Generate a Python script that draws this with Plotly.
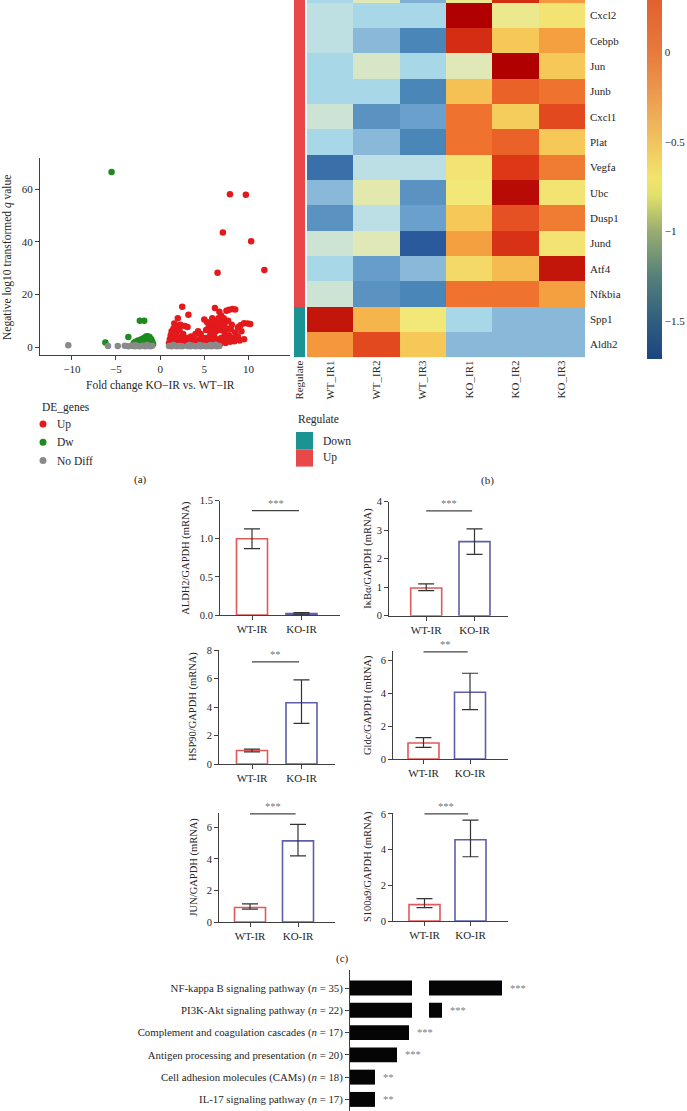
import plotly.graph_objects as go

W, H = 687, 1111
def X(p): return p / W
def Y(p): return 1 - p / H

FONT = "Liberation Serif"
TXT = "#262626"
AX = "#404040"

# ---------------- (a) volcano data ----------------
up_x = [7.9, 9.7, 7.1, 10.3, 6.5, 11.8, 2.5, 6.2, 7.5, 7.8, 8.2, 8.5, 6.7, 3.2, 2.0, 1.6, 5.9, 5.0, 5.3, 6.4,
        6.9, 7.2, 9.5, 9.9, 10.2, 9.1, 8.8, 3.1, 2.8, 4.3, 4.6, 5.5, 6.0, 6.6, 7.0, 7.6, 8.0, 8.5, 9.2, 1.3,
        1.5, 1.8, 2.2, 2.6, 3.5, 3.8, 4.0, 5.2, 5.7, 6.3, 6.8, 7.3, 7.8, 8.2, 8.8, 9.5, 1.1, 1.2, 1.4, 1.6,
        1.9, 2.1, 2.4, 2.7, 3.0, 3.3, 3.6, 4.2, 4.5, 4.8, 5.1, 5.4, 5.6, 5.9, 6.1, 6.4, 6.6, 6.9, 7.2, 7.5,
        7.9, 8.4, 9.0, 1.0, 1.7, 2.3, 2.9, 3.9, 4.4, 5.0, 5.8, 6.2, 6.8, 7.4, 1.5, 2.0, 2.3, 6.5, 7.0, 7.3,
        6.1, 5.5, 1.8, 6.9, 7.7, 8.1, 6.0, 6.6, 1.4, 2.6]
up_y = [58.0, 57.8, 43.5, 40.2, 28.2, 29.3, 15.3, 14.8, 13.8, 14.2, 14.5, 14.3, 13.4, 12.3, 11.0, 9.0, 11.0, 10.5, 9.5, 10.0,
        12.0, 11.0, 9.1, 9.0, 8.8, 8.3, 7.5, 7.6, 8.0, 6.0, 5.0, 8.0, 7.8, 9.0, 8.5, 7.0, 6.8, 5.5, 6.0, 6.0,
        7.0, 5.5, 6.5, 5.0, 4.0, 3.0, 5.0, 6.5, 5.5, 6.0, 6.5, 5.0, 4.5, 3.5, 4.0, 3.0, 3.0, 4.5, 2.0, 3.5,
        2.5, 4.0, 3.0, 2.0, 3.5, 2.0, 1.5, 2.5, 3.0, 2.0, 3.5, 2.5, 4.0, 3.0, 4.5, 3.0, 2.0, 3.5, 2.5, 3.0,
        2.0, 2.2, 2.5, 1.5, 1.2, 1.5, 1.2, 1.3, 1.5, 1.2, 1.5, 1.8, 1.3, 1.6, 5.0, 7.5, 8.5, 8.0, 6.8, 9.0,
        6.5, 6.8, 8.2, 10.5, 10.0, 8.5, 9.5, 11.0, 2.8, 4.2]

dw_x = [-5.5, -2.3, -1.8, -3.6, -6.2, -3.0, -2.8, -2.5, -2.2, -2.0, -1.8, -1.6, -1.4, -1.2, -1.0, -0.9, -1.3, -1.7,
        -2.1, -2.6, -1.1, -1.5, -1.9, -2.4, -0.8, -1.4, -1.7, -2.0, -1.2]
dw_y = [66.5, 10.0, 10.0, 3.8, 1.7, 1.5, 2.0, 2.5, 2.8, 3.2, 3.5, 4.0, 4.1, 3.8, 3.0, 2.0, 2.5, 2.2,
        1.8, 1.5, 1.5, 1.8, 1.3, 1.2, 1.2, 3.0, 3.0, 2.3, 2.2]

nd_x = [-10.4, -5.9, -4.8, -4.0, -3.6, -3.2, -2.9, -2.6, -2.3, -2.0, -1.7, -1.4, -1.1, -0.9, 1.0, 1.3, 1.6, 1.9,
        2.2, 2.5, 3.1, 3.4, 3.7, 4.0, 4.3, 4.6, 4.9, 5.2, 5.5, 5.8, 6.1, 6.4, 6.7, -2.8, -1.5, 1.5, 3.3, 4.5,
        5.7, 6.3]
nd_y = [0.7, 0.4, 0.4, 0.5, 0.3, 0.5, 0.3, 0.4, 0.3, 0.5, 0.3, 0.4, 0.3, 0.5, 0.4, 0.3, 0.5, 0.3,
        0.4, 0.3, 0.4, 0.3, 0.5, 0.3, 0.4, 0.3, 0.5, 0.3, 0.4, 0.3, 0.5, 0.3, 0.4, 0.8, 0.8, 0.8, 0.8, 0.8,
        0.8, 0.9]

de_labels = ["Up", "Dw", "No Diff"]
de_colors = ["#e3191c", "#1f8a1f", "#8a8a8a"]

# ---------------- (b) heatmap data ----------------
genes = ["", "Cxcl2", "Cebpb", "Jun", "Junb", "Cxcl1", "Plat", "Vegfa", "Ubc", "Dusp1", "Jund", "Atf4",
         "Nfkbia", "Spp1", "Aldh2"]
samples = ["WT_IR1", "WT_IR2", "WT_IR3", "KO_IR1", "KO_IR2", "KO_IR3"]
expr = [
    [-0.6, 0.0, -1.0, 0.2, 1.6, 0.95],
    [-0.35, -0.6, -0.6, 2.0, 0.2, 0.35],
    [-0.35, -0.9, -1.6, 1.6, 0.6, 0.9],
    [-0.6, -0.1, -0.6, 0.0, 2.0, 0.6],
    [-0.6, -0.6, -1.6, 0.65, 1.25, 1.15],
    [-0.2, -1.4, -1.2, 1.15, 0.55, 1.4],
    [-0.6, -0.9, -1.6, 1.15, 1.25, 0.6],
    [-1.8, -0.4, -0.4, 0.35, 1.5, 1.1],
    [-0.9, 0.05, -1.4, 0.3, 1.9, 0.35],
    [-1.4, -0.4, -1.2, 0.6, 1.35, 1.1],
    [-0.2, 0.0, -2.0, 0.9, 1.55, 0.35],
    [-0.6, -1.25, -0.9, 0.45, 0.7, 1.8],
    [-0.2, -1.4, -1.6, 1.15, 1.15, 0.9],
    [1.8, 0.75, 0.3, -0.6, -0.9, -0.9],
    [0.95, 1.4, 0.6, -0.9, -0.9, -0.9],
]
regulate = ["Up"] * 13 + ["Down"] * 2
cbar_ticks = [0, -0.5, -1, -1.5]
cbar_text = ["0", "\u22120.5", "\u22121", "\u22121.5"]
cbar_min, cbar_max = -1.71, 0.29

# ---------------- (c) qPCR data ----------------
groups = ["WT-IR", "KO-IR"]
qpcr_titles = ["ALDH2/GAPDH (mRNA)", "I\u03baB\u03b1/GAPDH (mRNA)", "HSP90/GAPDH (mRNA)",
               "Gldc/GAPDH (mRNA)", "JUN/GAPDH (mRNA)", "S100a9/GAPDH (mRNA)"]
qpcr_mean = [[1.0, 0.02], [0.97, 2.6], [0.95, 4.3], [0.97, 4.05], [0.92, 5.15], [0.92, 4.55]]
qpcr_hi = [[1.13, 0.03], [1.12, 3.05], [1.05, 5.9], [1.3, 5.2], [1.15, 6.2], [1.25, 5.65]]
qpcr_lo = [[0.87, 0.01], [0.88, 2.15], [0.85, 2.85], [0.7, 3.0], [0.82, 4.2], [0.75, 3.6]]
qpcr_sig = ["***", "***", "**", "**", "***", "***"]
qpcr_sig_y = [1.37, 3.68, 7.16, 6.5, 6.86, 6.0]
qpcr_yticks = [[0, 0.5, 1.0, 1.5], [0, 1, 2, 3, 4], [0, 2, 4, 6, 8], [0, 2, 4, 6], [0, 2, 4, 6], [0, 2, 4, 6]]
qpcr_ymax = [1.5, 4, 8, 6.55, 6.92, 6.05]

# ---------------- (d) pathway data ----------------
pathways = ["NF-kappa B signaling pathway", "PI3K-Akt signaling pathway", "Complement and coagulation cascades",
            "Antigen processing and presentation", "Cell adhesion molecules (CAMs)", "IL-17 signaling pathway"]
path_n = [35, 22, 17, 20, 18, 17]
path_score = [17.3, 11.3, 5.9, 4.7, 2.5, 2.5]
path_sig = ["***", "***", "***", "***", "**", "**"]
break_lo, break_hi = 6.2, 10.0

fig = go.Figure()
layout = dict(width=W, height=H, margin=dict(l=0, r=0, t=0, b=0, pad=0, autoexpand=False),
              paper_bgcolor="white", plot_bgcolor="rgba(0,0,0,0)", showlegend=False,
              font=dict(family=FONT, color=TXT, size=11))
annotations = []
shapes = []

def ann(text, px, py, size=11, angle=0, xanchor="center", yanchor="middle", color=TXT, **kw):
    annotations.append(dict(text=text, x=X(px), y=Y(py), xref="paper", yref="paper", showarrow=False,
                            textangle=angle, xanchor=xanchor, yanchor=yanchor,
                            font=dict(family=FONT, size=size, color=color), **kw))

# ---------------- (a) volcano ----------------
for xs, ys, c, name in [(up_x, up_y, de_colors[0], de_labels[0]),
                        (dw_x, dw_y, de_colors[1], de_labels[1]),
                        (nd_x, nd_y, de_colors[2], de_labels[2])]:
    fig.add_trace(go.Scatter(x=xs, y=ys, mode="markers", name=name, xaxis="x", yaxis="y",
                             marker=dict(color=c, size=6.5, line=dict(width=0))))
axcommon = dict(showgrid=False, zeroline=False, showline=True, linecolor=AX, linewidth=1,
                ticks="outside", ticklen=4, tickcolor=AX, tickfont=dict(family=FONT, size=11, color=TXT))
layout["xaxis"] = dict(domain=[X(40), X(290)], range=[-13.6, 14.7], tickvals=[-10, -5, 0, 5, 10],
                       anchor="y", **axcommon)
layout["yaxis"] = dict(domain=[Y(355), Y(158)], range=[-3, 71.8], tickvals=[0, 20, 40, 60],
                       anchor="x", **axcommon)
ann("Fold change KO\u2212IR vs. WT\u2212IR", 160, 385, size=11.5)
ann("Negative log10 transformed <i>q</i> value", 7, 258, size=11.5, angle=-90)
# legend of volcano
ann("DE_genes", 40, 407, size=11.5, xanchor="left")
for i, (lab, c) in enumerate(zip(de_labels, de_colors)):
    cy = 424 + i * 18.3
    shapes.append(dict(type="circle", xref="paper", yref="paper", x0=X(39.5), x1=X(46.5),
                       y0=Y(cy + 3.5), y1=Y(cy - 3.5), fillcolor=c, line=dict(width=0)))
    ann(lab, 55, cy, size=11.5, xanchor="left")
ann("(a)", 140, 479, size=11)

# ---------------- (b) heatmap ----------------
ypos = list(range(len(genes) - 1, -1, -1))
cell_scale = [[0.0, "#2a5a9c"], [0.1, "#4a86b8"], [0.2, "#6aa0cc"], [0.275, "#8ab8d8"], [0.35, "#a8d8e8"],
              [0.425, "#c4e2e2"], [0.5, "#e0e8b8"], [0.575, "#f2e878"], [0.65, "#f5c858"],
              [0.725, "#f5a040"], [0.8, "#ee6a2c"], [0.875, "#dc3818"], [1.0, "#b00000"]]
fig.add_trace(go.Heatmap(z=expr, x=list(range(len(samples))), y=ypos, xaxis="x2", yaxis="y2",
                         colorscale=cell_scale, zmin=-2, zmax=2, showscale=False))
reg_val = [1 if r == "Up" else 0 for r in regulate]
fig.add_trace(go.Heatmap(z=[[v] for v in reg_val], x=[0], y=ypos, xaxis="x3", yaxis="y2",
                         colorscale=[[0, "#1b9393"], [0.5, "#1b9393"], [0.5, "#e9484b"], [1, "#e9484b"]],
                         zmin=0, zmax=1, showscale=False))
# colour bar scale (value -> colour), expressed on [cbar_min, cbar_max]
cb_vals = [-1.71, -1.5, -1.25, -1.0, -0.8, -0.7, -0.5, -0.25, 0.0, 0.29]
cb_cols = ["#1d4580", "#2f5e80", "#55807a", "#98ac70", "#e2e06a", "#f2e46a", "#f0c460", "#ec9c50",
           "#e77a3c", "#e3602f"]
cb_scale = [[(v - cbar_min) / (cbar_max - cbar_min), c] for v, c in zip(cb_vals, cb_cols)]
cb_scale[-1][0] = 1.0
fig.add_trace(go.Scatter(x=[-5, -5], y=[-5, -5], mode="markers", xaxis="x2", yaxis="y2", hoverinfo="skip",
                         marker=dict(color=[cbar_min, cbar_max], colorscale=cb_scale, cmin=cbar_min, cmax=cbar_max,
                                     opacity=0, showscale=True,
                                     colorbar=dict(x=X(647), xanchor="left", xref="paper", y=Y(359),
                                                   yanchor="bottom", yref="paper", lenmode="pixels",
                                                   len=359, thickness=15,
                                                   thicknessmode="pixels", outlinewidth=0, xpad=0, ypad=0,
                                                   tickvals=cbar_ticks, ticktext=cbar_text, ticks="",
                                                   tickfont=dict(family=FONT, size=11, color=TXT)))))
layout["xaxis2"] = dict(domain=[X(307), X(585)], range=[-0.5, 5.5], tickvals=list(range(6)), ticktext=samples,
                        tickangle=-90, ticks="", showline=False, showgrid=False, zeroline=False, anchor="y2",
                        tickfont=dict(family=FONT, size=11, color=TXT))
layout["yaxis2"] = dict(domain=[Y(357.3), 1], range=[-0.5, 13.61], tickvals=ypos, ticktext=genes, side="right",
                        ticks="", showline=False, showgrid=False, zeroline=False, anchor="x2",
                        ticklabelstandoff=4, tickfont=dict(family=FONT, size=11, color=TXT))
layout["xaxis3"] = dict(domain=[X(294), X(305)], range=[-0.5, 0.5], tickvals=[0], ticktext=["Regulate"],
                        tickangle=-90, ticks="", showline=False, showgrid=False, zeroline=False, anchor="y2",
                        tickfont=dict(family=FONT, size=11, color=TXT))
ann("Regulate", 296, 420, size=11.5, xanchor="left")
for i, (lab, c) in enumerate([("Down", "#1b9393"), ("Up", "#e9484b")]):
    top = 432 + i * 17.3
    shapes.append(dict(type="rect", xref="paper", yref="paper", x0=X(296), x1=X(313), y0=Y(top + 17.3),
                       y1=Y(top), fillcolor=c, line=dict(width=0)))
    ann(lab, 321, top + 8.6, size=11.5, xanchor="left")
ann("(b)", 488, 480, size=11)

# ---------------- (c) qPCR bars ----------------
# geometry: (axis x px, axis end px, WT centre px, px per unit, y0 px, ytop px, title x px)
geom = [(220, 340, 252, 49.5, 615, 500.7, 186),
        (389, 508, 426.2, 48.3, 615.7, 501.7, 368),
        (219, 335, 252, 49.5, 764, 650, 193),
        (393, 508, 423.5, 46.5, 759, 651, 368),
        (219, 335, 250, 48, 922, 813, 193),
        (393, 508, 424.5, 46, 921, 813, 368)]
for k in range(6):
    ax_id = k + 4
    axl, axr, c0, ppu, y0, yt, tx = geom[k]
    xs = "x%d" % ax_id
    ys = "y%d" % ax_id
    m = qpcr_mean[k]
    fig.add_trace(go.Bar(x=[0, 1], y=m, xaxis=xs, yaxis=ys, width=31 / ppu,
                         marker=dict(color="white", line=dict(color=["#e05a5a", "#5e5eaa"], width=1.6)),
                         error_y=dict(type="data", symmetric=False,
                                      array=[qpcr_hi[k][j] - m[j] for j in range(2)],
                                      arrayminus=[m[j] - qpcr_lo[k][j] for j in range(2)],
                                      color="#333333", thickness=1.2, width=8)))
    layout["xaxis%d" % ax_id] = dict(domain=[X(axl), X(axr)], range=[(axl - c0) / ppu, (axr - c0) / ppu],
                                     tickvals=[0, 1], ticktext=groups, anchor=ys,
                                     **{**axcommon, "tickfont": dict(family=FONT, size=11, color=TXT)})
    ymax = qpcr_ymax[k]
    yt_kw = dict(tickformat=".1f") if k == 0 else {}
    layout["yaxis%d" % ax_id] = dict(domain=[Y(y0), Y(yt)], range=[0, ymax], tickvals=qpcr_yticks[k],
                                     anchor=xs, **yt_kw,
                                     **{**axcommon, "tickfont": dict(family=FONT, size=10.5, color=TXT)})
    shapes.append(dict(type="line", xref=xs, yref=ys, x0=0, x1=0.95, y0=qpcr_sig_y[k], y1=qpcr_sig_y[k],
                       line=dict(color="#444444", width=1.2)))
    annotations.append(dict(text=qpcr_sig[k], x=0.475, y=qpcr_sig_y[k], xref=xs, yref=ys, showarrow=False,
                            yanchor="bottom", yshift=0, font=dict(family=FONT, size=10.5, color="#777777")))
    ann(qpcr_titles[k], tx, (y0 + yt) / 2, size=10.5, angle=-90)
ann("(c)", 342, 958, size=11)

# ---------------- (d) pathway enrichment (broken axis) ----------------
labels = ["%s (<i>n</i> = %d)" % (p, n) for p, n in zip(pathways, path_n)]
rows = list(range(len(pathways)))
for xs in ["x10", "x11"]:
    fig.add_trace(go.Bar(x=path_score, y=rows, orientation="h", xaxis=xs, yaxis="y10", width=0.67,
                         marker=dict(color="#050505", line=dict(width=0))))
layout["xaxis10"] = dict(domain=[X(350), X(412)], range=[0, break_lo], visible=False, anchor="y10")
layout["xaxis11"] = dict(domain=[X(429), X(560)], range=[break_hi, break_hi + 13.1], visible=False, anchor="y10")
layout["yaxis10"] = dict(domain=[0, Y(970)], range=[5.52, -0.81], tickvals=rows, ticktext=labels, anchor="x10",
                         **{**axcommon, "tickfont": dict(family=FONT, size=10.8, color=TXT)})
for r, (v, s) in enumerate(zip(path_score, path_sig)):
    xs = "x11" if v > break_lo else "x10"
    annotations.append(dict(text=s, x=v, y=r, xref=xs, yref="y10", showarrow=False, xanchor="left", xshift=6,
                            font=dict(family=FONT, size=10.5, color="#808080")))

layout["annotations"] = annotations
layout["shapes"] = shapes
fig.update_layout(**layout)
fig.write_html("out.html", config={"displayModeBar": False},
               post_script="document.body.style.margin='0px';document.body.style.overflow='hidden';")
